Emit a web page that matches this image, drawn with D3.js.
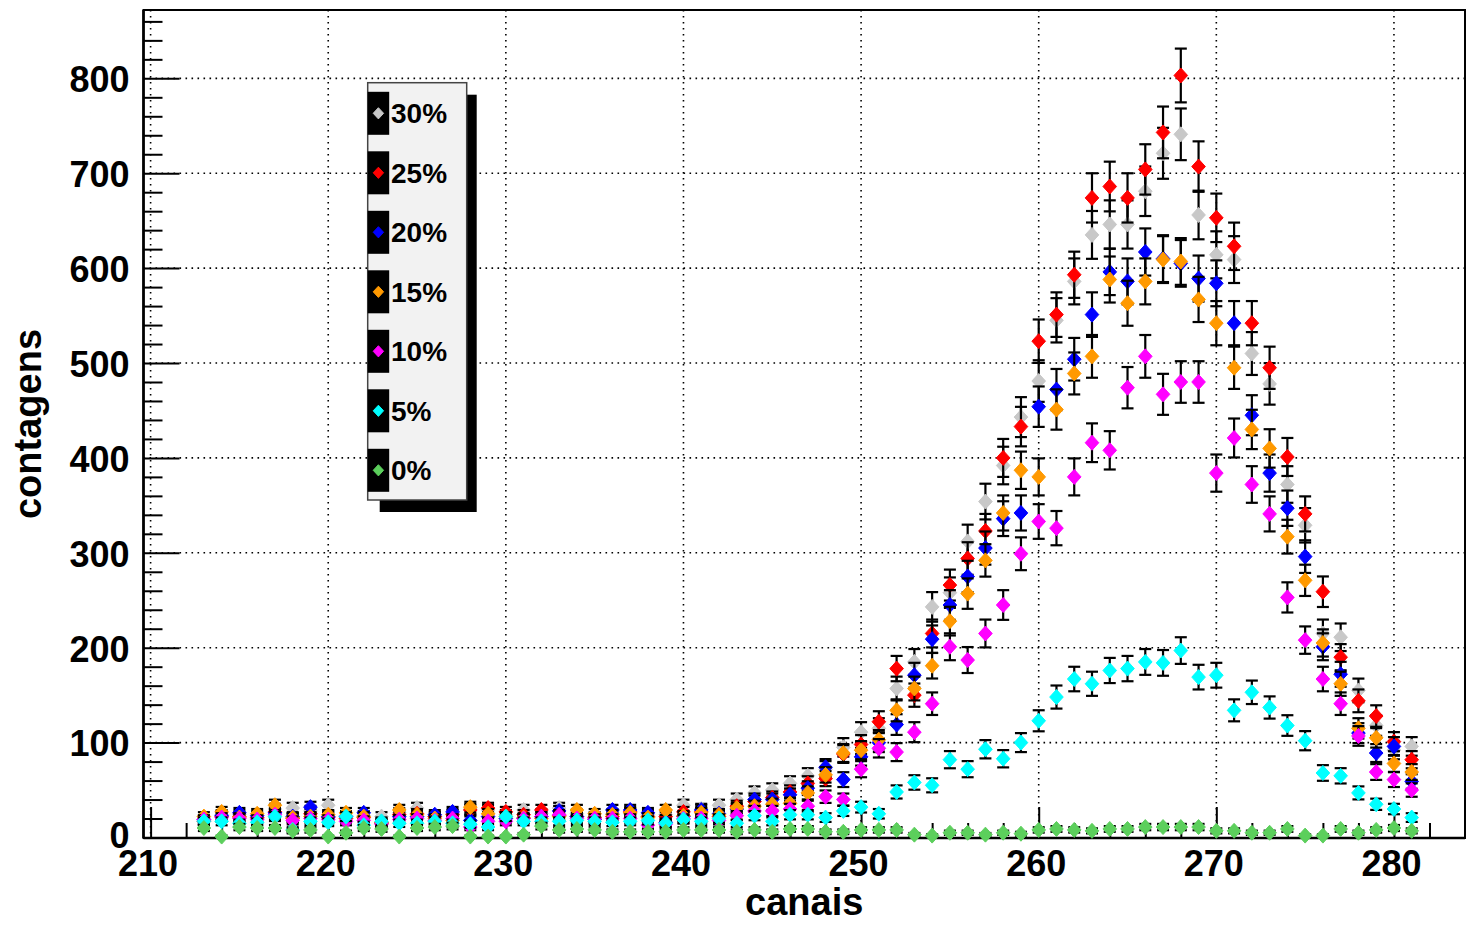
<!DOCTYPE html>
<html>
<head>
<meta charset="utf-8">
<script src="https://cdn.jsdelivr.net/npm/d3@7"></script>
<style>
  html, body { margin: 0; padding: 0; background: #ffffff; }
  svg { display: block; }
  text { font-family: "Liberation Sans", Arial, Helvetica, sans-serif; font-weight: bold; fill: #000; }
</style>
</head>
<body>
<svg id="chart" width="1466" height="925"></svg>
<script>
// Channels (bin centres)
const canais = [213,214,215,216,217,218,219,220,221,222,223,224,225,226,227,228,229,230,
  231,232,233,234,235,236,237,238,239,240,241,242,243,244,245,246,247,248,249,250,
  251,252,253,254,255,256,257,258,259,260,261,262,263,264,265,266,267,268,269,270,
  271,272,273,274,275,276,277,278,279,280,281];

// Counts per channel for each concentration
const c30 = [18,24,24,20,30,31,28,34,23,23,22,26,31,22,25,30,29,24,29,25,31,25,22,25,25,24,24,34,
  30,34,40,47,50,57,65,72,95,111,115,157,185,243,258,312,354,392,443,481,545,586,635,646,646,681,
  721,741,656,614,609,510,478,372,329,215,211,155,118,92,96];
const c25 = [17,22,22,21,27,20,25,21,20,21,16,24,25,22,24,29,31,27,24,29,23,22,21,22,27,22,22,27,
  27,22,33,38,42,48,57,62,88,98,122,178,150,215,266,294,323,400,433,523,551,593,674,686,674,704,
  743,803,707,653,623,542,495,401,341,259,190,144,128,101,82];
const c20 = [19,23,26,23,26,22,32,22,22,26,15,22,22,24,27,18,22,20,20,22,28,22,19,29,29,26,16,22,
  29,25,30,40,40,45,52,74,61,85,100,119,171,209,245,275,305,336,342,454,472,504,551,596,586,617,
  610,605,589,584,542,445,384,347,296,201,172,110,89,96,59];
const c15 = [22,27,21,25,34,21,22,24,26,22,15,29,24,20,18,32,25,22,21,20,22,29,25,24,26,21,29,23,
  26,24,31,33,35,36,47,66,89,92,103,134,157,181,228,257,292,342,387,380,451,489,507,588,563,586,
  609,607,567,542,495,430,410,317,271,205,162,115,105,78,69];
const c10 = [19,21,20,19,24,18,20,19,17,18,14,19,20,18,20,11,17,17,20,22,24,20,20,20,20,13,14,20,
  20,18,23,28,28,30,33,43,40,72,94,90,111,141,201,187,215,245,299,333,326,380,416,408,474,507,
  467,480,480,384,421,372,341,253,208,167,141,107,69,61,50];
const c05 = [17,17,15,16,22,8,17,16,22,13,17,15,15,17,15,14,11,22,17,17,17,18,17,16,17,18,15,19,
  17,20,15,23,17,24,24,21,28,32,25,48,58,55,82,72,93,83,100,123,148,167,162,176,178,185,
  184,197,169,171,134,153,137,118,102,68,65,47,35,30,21];
const c00 = [10,1,11,10,10,7,8,1,5,10,9,1,10,11,12,1,1,1,3,12,8,9,8,6,6,6,6,8,
  8,8,6,8,6,9,9,6,6,8,8,8,3,2,5,5,3,5,4,8,9,8,7,9,9,11,
  11,11,11,7,7,5,5,9,2,2,9,5,8,10,7];

// Series in drawing / legend order
const seriesLabels = ["30%","25%","20%","15%","10%","5%","0%"];
const seriesValues = [c30, c25, c20, c15, c10, c05, c00];
const seriesColors = ["#c8c8c8","#ff0000","#0000ff","#ff9900","#ff00ff","#00ffff","#5ccf5c"];

// Axis ticks
const xMajor = [210,220,230,240,250,260,270,280];
const xMinor = [212,214,216,218,222,224,226,228,232,234,236,238,242,244,246,248,252,254,256,258,
  262,264,266,268,272,274,276,278,282,284];
const yMajor = [0,100,200,300,400,500,600,700,800];
const yMinor = [20,40,60,80,120,140,160,180,220,240,260,280,320,340,360,380,420,440,460,480,
  520,540,560,580,620,640,660,680,720,740,760,780,820,840,860];

const svg = d3.select("#chart");
const L = 143.5, R = 1465, T = 10, B = 838;

const x = d3.scaleLinear().domain([209.6, 284.0]).range([L, R]);
const y = d3.scaleLinear().domain([0, 872]).range([837.5, T]);

// Dotted grid
const grid = svg.append("g");
grid.selectAll("line.gx").data(xMajor).join("line")
  .attr("x1", d => x(d)).attr("x2", d => x(d)).attr("y1", T).attr("y2", B)
  .attr("stroke", "#000").attr("stroke-width", 1.6).attr("stroke-dasharray", "1.6,4.4");
grid.selectAll("line.gy").data(yMajor.filter(d => d > 0)).join("line")
  .attr("x1", L).attr("x2", R).attr("y1", d => y(d)).attr("y2", d => y(d))
  .attr("stroke", "#000").attr("stroke-width", 1.6).attr("stroke-dasharray", "1.6,4.4");

// Axes with inward ticks
const xAxis = svg.append("g").attr("transform", `translate(0,${B})`)
  .call(d3.axisBottom(x).tickValues(xMajor).tickSizeInner(-31).tickSizeOuter(0).tickPadding(12)
    .tickFormat(d3.format("d")));
const xAxisMinor = svg.append("g").attr("transform", `translate(0,${B})`)
  .call(d3.axisBottom(x).tickValues(xMinor).tickSizeInner(-15).tickSizeOuter(0).tickFormat(""));
const yAxis = svg.append("g").attr("transform", `translate(${L},0)`)
  .call(d3.axisLeft(y).tickValues(yMajor).tickSizeInner(-36).tickSizeOuter(0).tickPadding(14)
    .tickFormat(d3.format("d")));
const yAxisMinor = svg.append("g").attr("transform", `translate(${L},0)`)
  .call(d3.axisLeft(y).tickValues(yMinor).tickSizeInner(-19).tickSizeOuter(0).tickFormat(""));

[xAxis, xAxisMinor, yAxis, yAxisMinor].forEach(g => {
  g.select(".domain").remove();
  g.selectAll(".tick line").attr("stroke", "#000").attr("stroke-width", 2);
  g.selectAll(".tick text").style("font-size", "36px").attr("fill", "#000");
});
xAxis.selectAll(".tick text").attr("dx", "-3");
yAxis.selectAll(".tick text").attr("dy", "0.37em");
// lift the zero label a little so it clears the first x label
yAxis.selectAll(".tick text").filter(d => d === 0).attr("dy", "0.28em");

// Frame
svg.append("rect").attr("x", L).attr("y", T).attr("width", R - L).attr("height", B - T)
  .attr("fill", "none").attr("stroke", "#000").attr("stroke-width", 2);
svg.append("line").attr("x1", L).attr("x2", R).attr("y1", B).attr("y2", B)
  .attr("stroke", "#000").attr("stroke-width", 2.6);
svg.append("line").attr("x1", L).attr("x2", L).attr("y1", T).attr("y2", B)
  .attr("stroke", "#000").attr("stroke-width", 2.6);

// Axis titles
svg.append("text").attr("x", (L + R) / 2).attr("y", 915).attr("text-anchor", "middle")
  .style("font-size", "38px").text("canais");
svg.append("text").attr("transform", `translate(41,${(T + B) / 2}) rotate(-90)`)
  .attr("text-anchor", "middle").style("font-size", "38px").text("contagens");

// Diamond marker path
const diamond = (cx, cy, w, h) => `M${cx},${cy - h}L${cx + w},${cy}L${cx},${cy + h}L${cx - w},${cy}Z`;

// Data points with sqrt(N) error bars
const plot = svg.append("g");
seriesValues.forEach((vals, si) => {
  const pts = canais.map((c, i) => ({ c, v: vals[i], e: Math.sqrt(vals[i]) }));
  const g = plot.append("g");
  const eb = g.selectAll("g.eb").data(pts).join("g");
  eb.append("line")
    .attr("x1", d => x(d.c)).attr("x2", d => x(d.c))
    .attr("y1", d => y(d.v + d.e)).attr("y2", d => y(Math.max(0, d.v - d.e)))
    .attr("stroke", "#000").attr("stroke-width", 2.2);
  eb.append("line")
    .attr("x1", d => x(d.c) - 6).attr("x2", d => x(d.c) + 6)
    .attr("y1", d => y(d.v + d.e)).attr("y2", d => y(d.v + d.e))
    .attr("stroke", "#000").attr("stroke-width", 2.2);
  eb.append("line")
    .attr("x1", d => x(d.c) - 6).attr("x2", d => x(d.c) + 6)
    .attr("y1", d => y(Math.max(0, d.v - d.e))).attr("y2", d => y(Math.max(0, d.v - d.e)))
    .attr("stroke", "#000").attr("stroke-width", 2.2);
  g.selectAll("path.m").data(pts).join("path")
    .attr("d", d => diamond(x(d.c), y(d.v), 6.8, 7.5))
    .attr("fill", seriesColors[si]).attr("stroke", seriesColors[si]).attr("stroke-width", 1)
    .attr("stroke-linejoin", "round");
});

// Legend with drop shadow
const lg = svg.append("g");
const lx = 367.7, ly = 82.7, lw = 99, lh = 417.3;
lg.append("rect").attr("x", lx + 12).attr("y", ly + 12).attr("width", lw - 2).attr("height", lh)
  .attr("fill", "#000");
lg.append("rect").attr("x", lx).attr("y", ly).attr("width", lw).attr("height", lh)
  .attr("fill", "#f2f2f2").attr("stroke", "#444").attr("stroke-width", 1.5);
seriesLabels.forEach((lab, i) => {
  const cy = 113.3 + i * 59.5;
  lg.append("rect").attr("x", lx).attr("y", cy - 21.5).attr("width", 21.5).attr("height", 43)
    .attr("fill", "#000");
  lg.append("path").attr("d", diamond(lx + 10.7, cy, 5.2, 5.6))
    .attr("fill", seriesColors[i]).attr("stroke", seriesColors[i]).attr("stroke-width", 1);
  lg.append("text").attr("x", 391).attr("y", cy + 10).style("font-size", "28px").text(lab);
});
</script>
</body>
</html>
